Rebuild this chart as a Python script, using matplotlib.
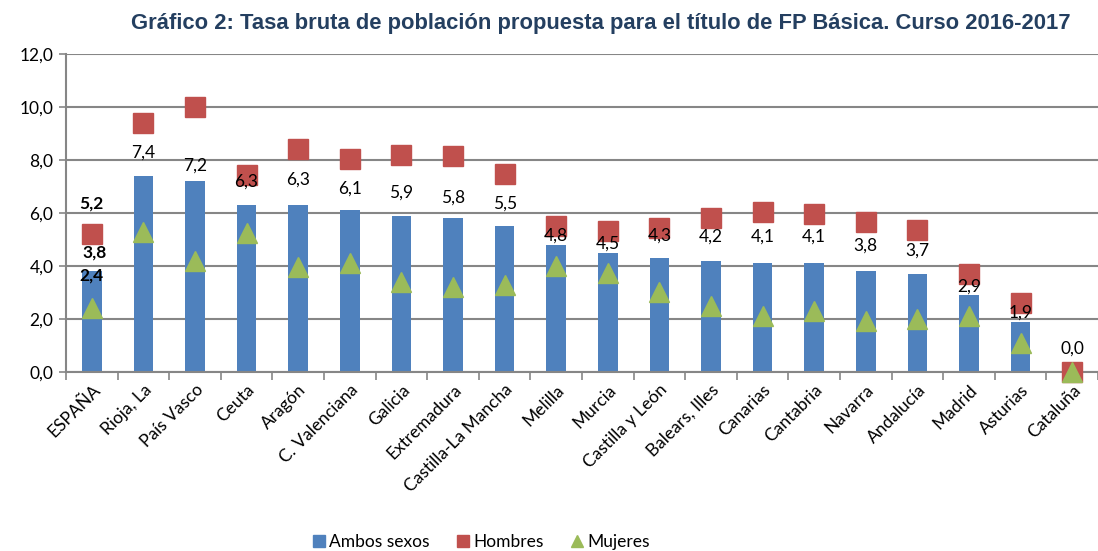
import matplotlib
matplotlib.use("Agg")
import matplotlib.pyplot as plt
from matplotlib.lines import Line2D
import numpy as np

categories = ["ESPAÑA", "Rioja, La", "País Vasco", "Ceuta", "Aragón", "C. Valenciana",
              "Galicia", "Extremadura", "Castilla-La Mancha", "Melilla", "Murcia",
              "Castilla y León", "Balears, Illes", "Canarias", "Cantabria", "Navarra",
              "Andalucía", "Madrid", "Asturias", "Cataluña"]
ambos = [3.8, 7.4, 7.2, 6.3, 6.3, 6.1, 5.9, 5.8, 5.5, 4.8, 4.5, 4.3, 4.2, 4.1, 4.1,
         3.8, 3.7, 2.9, 1.9, 0.0]
hombres = [5.2, 9.4, 10.0, 7.45, 8.4, 8.05, 8.2, 8.15, 7.47, 5.5, 5.33, 5.45, 5.8,
           6.03, 5.96, 5.65, 5.36, 3.7, 2.6, 0.0]
mujeres = [2.4, 5.3, 4.2, 5.24, 3.97, 4.1, 3.4, 3.2, 3.28, 4.0, 3.73, 3.03, 2.5,
           2.1, 2.3, 1.93, 2.0, 2.1, 1.1, 0.0]
yticks = [0, 2, 4, 6, 8, 10, 12]

# label offsets above bar top (pixels), style only
label_offsets_px = [18, 23, 16, 23, 25, 22, 23, 21, 23, 9, 9, 22, 24, 27, 27, 26, 23, 9, 9, 23]

BLUE = "#4F81BD"
RED = "#C0504D"
GREEN = "#9BBB59"
GRID = "#868686"
TITLE_C = "#243F60"

plt.rcParams['font.family'] = ['Lato', 'DejaVu Sans']

fig = plt.figure(figsize=(10.98, 5.51), dpi=100)
ax = fig.add_axes([66 / 1098, (551 - 372) / 551, (1098 - 66) / 1098, 318 / 551])

x = np.arange(len(categories))
ax.bar(x, ambos, width=0.38, color=BLUE, zorder=2)
ax.plot(x, hombres, linestyle="none", marker="s", markersize=14.5, color=RED,
        markeredgecolor=RED, zorder=3, clip_on=False)
ax.plot(x, mujeres, linestyle="none", marker="^", markersize=14.5, color=GREEN,
        markeredgecolor=GREEN, zorder=4, clip_on=False)

def fmt(v):
    return f"{v:.1f}".replace(".", ",")

LBL = 12.5
for i, v in enumerate(ambos):
    if i == 0:
        continue
    ax.annotate(fmt(v), (x[i], v), xytext=(0, label_offsets_px[i] * 0.72),
                textcoords="offset points", ha="center", va="center",
                fontsize=LBL, color="black", zorder=6)

# ESPAÑA labels (bold)
ax.annotate(fmt(hombres[0]), (x[0], hombres[0]), xytext=(0, 31 * 0.72),
            textcoords="offset points", ha="center", va="center",
            fontsize=LBL, fontweight="bold", zorder=6)
ax.annotate(fmt(ambos[0]), (x[0], ambos[0]), xytext=(3 * 0.72, 19 * 0.72),
            textcoords="offset points", ha="center", va="center",
            fontsize=LBL, fontweight="bold", zorder=6)
ax.annotate(fmt(mujeres[0]), (x[0], mujeres[0]), xytext=(0, 33 * 0.72),
            textcoords="offset points", ha="center", va="center",
            fontsize=LBL, fontweight="bold", zorder=6)

ax.set_xlim(-0.5, (1098 - 92) / 51.95)
ax.set_ylim(0, 12)
ax.set_yticks(yticks)
ax.set_yticklabels([fmt(t) for t in yticks], fontsize=12.5)
ax.yaxis.grid(True, color=GRID, linewidth=1.5, zorder=0)
ax.set_axisbelow(True)

ax.set_xticks(x)
ax.set_xticklabels(categories, rotation=45, ha="right", rotation_mode="anchor",
                   fontsize=12.5)
ax.tick_params(axis="x", length=0, pad=7)
ax.set_xticks(np.arange(-0.5, len(categories), 1.0), minor=True)
ax.tick_params(axis="x", which="minor", length=6, color=GRID, width=1.2)
ax.tick_params(axis="y", length=5, color=GRID, width=1.2, pad=4)

for s in ["top", "right"]:
    ax.spines[s].set_visible(False)
for s in ["left", "bottom"]:
    ax.spines[s].set_color(GRID)
    ax.spines[s].set_linewidth(1.5)

fig.text(0.547, 1 - 23 / 551,
         "Gráfico 2: Tasa bruta de población propuesta para el título de FP Básica. Curso 2016-2017",
         ha="center", va="center", fontsize=15.8, fontweight="bold", color=TITLE_C,
         family="Liberation Sans")

handles = [
    Line2D([], [], linestyle="none", marker="s", markersize=8, color=BLUE),
    Line2D([], [], linestyle="none", marker="s", markersize=9, color=RED),
    Line2D([], [], linestyle="none", marker="^", markersize=9, color=GREEN),
]
fig.legend(handles, ["Ambos sexos", "Hombres", "Mujeres"], loc="center",
           bbox_to_anchor=(0.437, 1 - 542 / 551), ncol=3, frameon=False,
           fontsize=12.5, handletextpad=0.1, columnspacing=1.4, handlelength=1.0)

fig.savefig("out.png", dpi=100)
